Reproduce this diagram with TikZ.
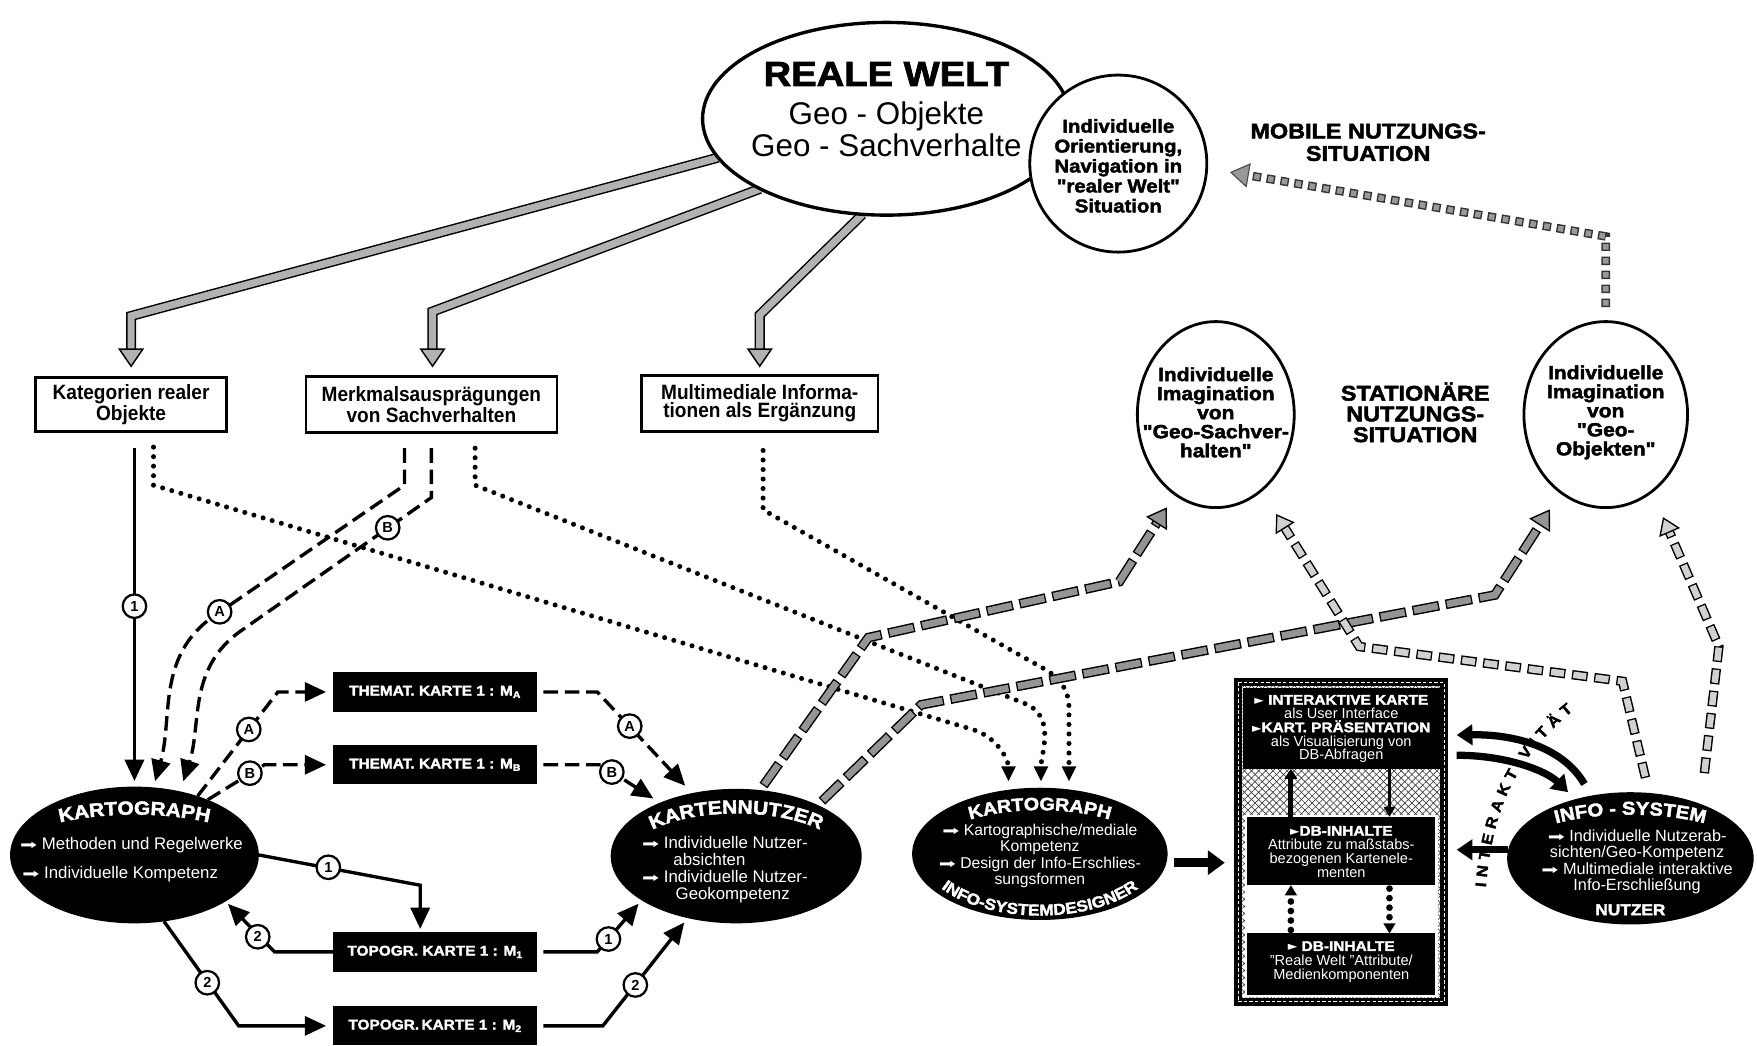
\documentclass[tikz,border=0pt]{standalone}
\usepackage{fontspec}
\usepackage{graphicx}
\setmainfont{Liberation Sans}
\newfontfamily\heavyf{Liberation Sans}[FakeStretch=1.1,BoldFeatures={FakeBold=2.2}]
\newfontfamily\condf{Liberation Sans}[FakeStretch=0.92]
\newfontfamily\symf{DejaVu Sans}
\usetikzlibrary{arrows.meta,shapes.geometric,decorations.text,patterns.meta,calc}
\pgfdeclarelayer{bg}
\pgfsetlayers{bg,main}
\newcommand\fsz[2]{\fontsize{#1}{#2}\selectfont}
\newcommand\hv{\heavyf\bfseries}
\newcommand\arr{{\symf\fsz{13}{13}\scalebox{1.4}[0.9]{➡}}}
\newcommand\ptr{{\symf\fsz{11}{11}►}}
\newcommand\subx[1]{\raisebox{-2.2pt}{\fsz{8.5}{8.5}#1}}

\begin{document}
\begin{tikzpicture}[x=1pt,y=1pt,
  every node/.style={inner sep=0pt,outer sep=0pt},
  topbox/.style={draw,line width=2.5pt,fill=white,align=center,font=\condf\bfseries\fsz{18.5}{16.5}},
  mapbox/.style={fill=black,text=white,minimum width=182pt,minimum height=35pt,font=\hv\fsz{12.5}{12.5}},
  darkell/.style={ellipse,fill=black},
  ringnode/.style={ellipse,draw,line width=2.5pt,fill=white,minimum height=166pt},
  ringtext/.style={align=center,font=\hv\fsz{17}{17}},
  wt/.style={text=white,font=\fsz{15}{15.3}},
  lab/.style={circle,draw,line width=2pt,fill=white,minimum size=21pt,font=\bfseries\fsz{13}{13}},
  conn/.style={line width=3pt,-{Triangle[width=17pt,length=19pt]}},
  dashconn/.style={conn,dash pattern=on 13pt off 6pt},
  dotconn/.style={line width=4.5pt,line cap=round,dash pattern=on 0pt off 8.5pt,-{Triangle[width=13pt,length=13pt,line width=0pt]}},
  dotin/.style={line width=6pt,line cap=round,dash pattern=on 0pt off 8.5pt,-{Triangle[width=11pt,length=9pt,line width=0pt]}},
  barout/.style={line width=9pt,draw=black},
  barin/.style={line width=6.4pt,draw=black!30,-{Triangle[width=23pt,length=17pt,line width=1.3pt,color=black,fill=black!30]}},
  gaout/.style={line width=8.6pt,draw=black,dash pattern=on 24pt off 6pt},
  gain/.style={line width=6pt,draw=black!42,dash pattern=on 21.6pt off 8.4pt,dash phase=28.8pt,-{Triangle[width=22pt,length=17pt,line width=1.2pt,color=black,fill=black!42]}},
  gcout/.style={line width=8.4pt,draw=black,dash pattern=on 14pt off 6pt},
  gcin/.style={line width=5.8pt,draw=black!18,dash pattern=on 11.6pt off 8.4pt,dash phase=18.8pt,-{Triangle[width=20pt,length=15pt,line width=1.2pt,color=black,fill=black!18]}},
  gmout/.style={line width=7.6pt,draw=black!80,dash pattern=on 7.5pt off 5pt},
  gmin/.style={line width=5pt,draw=black!40,dash pattern=on 4.9pt off 7.6pt,dash phase=11.2pt,-{Triangle[width=22pt,length=17pt,line width=1pt,color=black!70,fill=black!40]}},
  fatarrow/.style={line width=8pt,-{Triangle[width=21pt,length=15pt]}},
  arcarrow/.style={line width=6.5pt,-{Triangle[width=18pt,length=14pt]}},
  ibox/.style={draw=black,line width=7pt,preaction={fill=white},
    preaction={pattern={Lines[angle=45,distance=4.5pt,line width=0.6pt]},pattern color=black!75},
    pattern={Lines[angle=-45,distance=4.5pt,line width=0.6pt]},pattern color=black!75}
]
\useasboundingbox (0,0) rectangle (1568,-933);

% ---------------- real world ----------------
\node[ellipse,draw,line width=3pt,fill=white,minimum width=328pt,minimum height=172pt] (rw) at (791,-106) {};
\node[font=\hv\fsz{31}{31}] (rwt) at (791,-66) {REALE WELT};
\node[font=\fsz{28}{28}] (rwo) at (791,-104) {Geo - Objekte};
\node[font=\fsz{28}{28}] (rws) at (791,-130) {Geo - Sachverhalte};

\node[circle,draw,line width=2.5pt,fill=white,minimum size=158pt] (ori) at (998,-146) {};
\node[align=center,font=\hv\fsz{16.5}{17.8}] (orit) at (998,-148) {Individuelle\\Orientierung,\\Navigation in\\"realer Welt"\\Situation};

\node[align=center,font=\hv\fsz{19}{20}] (mob) at (1221,-127) {MOBILE NUTZUNGS-\\SITUATION};
\node[align=center,font=\hv\fsz{19}{18.5}] (sta) at (1263,-368) {STATIONÄRE\\NUTZUNGS-\\SITUATION};

\node[ringnode,minimum width=140pt] (ims) at (1085,-370) {};
\node[ringtext] (imst) at (1085,-368) {Individuelle\\Imagination\\von\\"Geo-Sachver-\\halten"};
\node[ringnode,minimum width=146pt] (imo) at (1433,-370) {};
\node[ringtext] (imot) at (1433,-368) {Individuelle\\Imagination\\von\\"Geo-\\Objekten"};

% ---------------- information categories ----------------
\node[topbox,minimum width=170pt,minimum height=48pt] (kat) at (117,-361) {Kategorien realer\\Objekte};
\node[topbox,minimum width=224pt,minimum height=50pt] (mkm) at (385,-361) {Merkmalsausprägungen\\von Sachverhalten};
\node[topbox,minimum width=211pt,minimum height=50pt] (mmi) at (678,-360) {Multimediale Informa-\\tionen als Ergänzung};

% ---------------- maps ----------------
\node[mapbox] (ta) at (388,-617.5) {THEMAT. KARTE 1 : M\subx{A}};
\node[mapbox] (tb) at (388,-682.5) {THEMAT. KARTE 1 : M\subx{B}};
\node[mapbox] (t1) at (388,-849.5) {TOPOGR. KARTE 1 : M\subx{1}};
\node[mapbox] (t2) at (388,-915.5) {TOPOGR.\,KARTE 1 : M\subx{2}};

% ---------------- actors ----------------
\node[darkell,minimum width=222pt,minimum height=122pt] (k1) at (120,-763) {};
\node[darkell,minimum width=224pt,minimum height=120pt] (kn) at (657,-764) {};
\node[darkell,minimum width=228pt,minimum height=118pt] (k2) at (928,-762) {};
\node[darkell,minimum width=220pt,minimum height=118pt] (is) at (1455,-766) {};

\node[wt,anchor=west] (k1a) at (18,-754) {\arr\ Methoden und Regelwerke};
\node[wt,anchor=west] (k1b) at (20,-780) {\arr\ Individuelle Kompetenz};
\node[wt,anchor=west,align=left] (knt) at (573,-776) {\arr\ Individuelle Nutzer-\\\hspace*{28pt}absichten\\\arr\ Individuelle Nutzer-\\\hspace*{30pt}Geokompetenz};
\node[wt,align=center,font=\fsz{14}{14.6}] (k2t) at (928,-764) {\arr\ Kartographische/mediale\\Kompetenz\\\arr\ Design der Info-Erschlies-\\sungsformen};
\node[wt,align=center,font=\fsz{14.5}{14.8}] (ist) at (1461,-769) {\arr\ Individuelle Nutzerab-\\sichten/Geo-Kompetenz\\\arr\ Multimediale interaktive\\Info-Erschließung};
\node[text=white,font=\hv\fsz{14}{14}] (nz) at (1455,-812) {NUTZER};

\path[shift={(k1.center)},decorate,decoration={text along path,text align=center,
  text={|\hv\fsz{17}{17}\color{white}|KARTOGRAPH}}]
  (165:112pt and 36pt) arc[start angle=165,end angle=15,x radius=112pt,y radius=36pt];
\path[shift={(kn.center)},decorate,decoration={text along path,text align=center,
  text={|\hv\fsz{17}{17}\color{white}|KARTENNUTZER}}]
  (170:95pt and 38pt) arc[start angle=170,end angle=10,x radius=95pt,y radius=38pt];
\path[shift={(k2.center)},decorate,decoration={text along path,text align=center,
  text={|\hv\fsz{16}{16}\color{white}|KARTOGRAPH}}]
  (165:100pt and 39pt) arc[start angle=165,end angle=15,x radius=100pt,y radius=39pt];
\path[shift={(k2.center)},decorate,decoration={text along path,text align=center,
  text={|\hv\fsz{14}{14}\color{white}|INFO-SYSTEMDESIGNER}}]
  (195:106pt and 55pt) arc[start angle=195,end angle=345,x radius=106pt,y radius=55pt];
\path[shift={(is.center)},decorate,decoration={text along path,text align=center,
  text={|\hv\fsz{16.5}{16.5}\color{white}|INFO - SYSTEM}}]
  (170:110pt and 39pt) arc[start angle=170,end angle=10,x radius=110pt,y radius=39pt];

% ---------------- information system ----------------
\node[ibox,minimum width=184pt,minimum height=285pt] (ibx) at (1197,-751.5) {};
\draw[white,line width=1.1pt,dash pattern=on 3pt off 2pt] (ibx.north west) rectangle (ibx.south east);
\node[fill=black,minimum width=176pt,minimum height=72pt] (ik) at (1197,-650) {};
\node[text=white,align=center,font=\fsz{13}{12.3}] (ikt) at (1197,-650.5)
  {{\hv\fsz{12.5}{12.3}\ptr\ INTERAKTIVE KARTE}\\als User Interface\\{\hv\fsz{12.5}{12.3}\ptr KART. PRÄSENTATION}\\als Visualisierung von\\DB-Abfragen};
\node[fill=white,minimum width=172pt,minimum height=163pt] (lw) at (1197,-808.5) {};
\node[fill=black,minimum width=168pt,minimum height=61pt] (dbm) at (1197,-759.5) {};
\node[text=white,align=center,font=\fsz{13}{12.3}] (dbmt) at (1197,-760)
  {{\hv\fsz{12.5}{12.3}\ptr DB-INHALTE}\\Attribute zu maßstabs-\\bezogenen Kartenele-\\menten};
\node[fill=black,minimum width=168pt,minimum height=55pt] (dbr) at (1197,-860.5) {};
\node[text=white,align=center,font=\fsz{13}{12.8}] (dbrt) at (1197,-858.5)
  {{\hv\fsz{12.5}{12.8}\ptr\ DB-INHALTE}\\"Reale Welt "Attribute/\\Medienkomponenten};

\draw[line width=4.5pt,-{Triangle[width=11pt,length=9pt]}] ([xshift=-45pt]dbm.north) -- ([xshift=-45pt]ik.south);
\draw[line width=3pt,-{Triangle[width=10pt,length=9pt]}] ([xshift=43pt]ik.south) -- ([xshift=43pt]dbm.north);
\draw[dotin,shorten <=3pt] ([xshift=-45pt]dbr.north) -- ([xshift=-45pt]dbm.south);
\draw[dotin,shorten <=3pt] ([xshift=43pt]dbm.south) -- ([xshift=43pt]dbr.north);

\path[decorate,decoration={text along path,text align=fit to path,
  text={|\hv\fsz{13.5}{13.5}|INTERAKTIVITÄT}}]
  (1326,-792) .. controls (1332,-722) and (1352,-677) .. (1404,-634);

% ---------------- markers on connectors ----------------
\node[lab] (l1) at (120,-541) {1};
\node[lab] (lA1) at (196,-546) {A};
\node[lab] (lB1) at (346,-471) {B};
\node[lab] (lA2) at (222,-651) {A};
\node[lab] (lB2) at (223,-690) {B};
\node[lab] (l12) at (293,-774) {1};
\node[lab] (l22) at (230,-836) {2};
\node[lab] (l23) at (185,-877) {2};
\node[lab] (lA3) at (562,-648) {A};
\node[lab] (lB3) at (546,-689) {B};
\node[lab] (l13) at (543,-838) {1};
\node[lab] (l24) at (567,-879) {2};

% ---------------- connectors ----------------
\begin{pgfonlayer}{bg}
% real world -> categories
\coordinate (g1) at (117,-282);
\coordinate (g2) at (386,-278);
\coordinate (g3) at (678,-281);
\draw[barout,shorten >=25pt] (rw.193) -- (g1) -- (g1 |- kat.north);
\draw[barin,shorten >=9pt] (rw.193) -- (g1) -- (g1 |- kat.north);
\draw[barout,shorten >=24pt] (rw.209) -- (g2) -- (g2 |- mkm.north);
\draw[barin,shorten >=8pt] (rw.209) -- (g2) -- (g2 |- mkm.north);
\draw[barout,shorten >=23pt] (rw.256) -- (g3) -- (g3 |- mmi.north);
\draw[barin,shorten >=7pt] (rw.256) -- (g3) -- (g3 |- mmi.north);

% dotted flows to the system designer
\coordinate (d1a) at (137,-433); \coordinate (d1b) at (868,-651);
\draw[dotconn,shorten <=14pt,shorten >=6pt] ([xshift=20pt]kat.south) -- (d1a) -- (d1b) to[out=-17,in=90] ([xshift=-28pt]k2.north);
\coordinate (d2a) at (424,-433); \coordinate (d2b) at (915,-628);
\draw[dotconn,shorten <=14pt,shorten >=6pt] ([xshift=39pt]mkm.south) -- (d2a) -- (d2b) to[out=-22,in=90] ([xshift=1pt]k2.north);
\coordinate (d3a) at (681,-455); \coordinate (d3b) at (932,-597); \coordinate (d3c) at (954,-632);
\draw[dotconn,shorten <=17pt,shorten >=6pt] ([xshift=3pt]mmi.south) -- (d3a) -- (d3b) to[out=-29.5,in=90] (d3c) -- ([xshift=26pt]k2.north);

% categories -> cartographer
\draw[conn,shorten <=15pt,shorten >=5pt] (kat.south -| k1.north) -- (k1.north);
\coordinate (dA1) at (361,-433); \coordinate (dA2) at (192,-549);
\draw[dashconn,shorten <=14pt,shorten >=5pt] ([xshift=-24pt]mkm.south) -- (dA1) -- (dA2) to[out=214,in=74] ([xshift=17pt]k1.north);
\coordinate (dB1) at (385,-444); \coordinate (dB2) at (215,-563);
\draw[dashconn,shorten <=14pt,shorten >=5pt] (mkm.south) -- (dB1) -- (dB2) to[out=215,in=72] ([xshift=42pt]k1.north);

% cartographer -> maps
\coordinate (cA) at (248,-617.5);
\draw[dashconn,shorten >=6pt] (k1.43) -- (cA) -- (ta.west);
\coordinate (cB) at (236,-682.5);
\draw[dashconn,shorten >=6pt] (k1.37) -- (cB) -- (tb.west);
\coordinate (c1) at (375,-790);
\draw[conn,shorten >=3pt] (k1.east) -- (c1) -- (c1 |- t1.north);
\coordinate (c2u) at (245,-849.5);
\draw[conn,shorten >=3pt] (t1.west) -- (c2u) -- (k1.-27);
\coordinate (c2d) at (213,-915.5);
\draw[conn,shorten >=6pt] (k1.-66) -- (c2d) -- (t2.west);

% maps -> map user
\coordinate (cA2) at (533,-617.5);
\draw[dashconn,shorten <=6pt,shorten >=9pt] (ta.east) -- (cA2) -- (kn.125);
\coordinate (cB2) at (536,-682.5);
\draw[dashconn,shorten <=6pt,shorten >=7pt] (tb.east) -- (cB2) -- (kn.145);
\coordinate (c12) at (533,-849.5);
\draw[conn,shorten <=6pt,shorten >=4pt] (t1.east) -- (c12) -- (kn.205);
\coordinate (c22) at (538,-915.5);
\draw[conn,shorten <=6pt,shorten >=5pt] (t2.east) -- (c22) -- (kn.232);

% stationary use: map user -> imagination
\coordinate (ga1) at (775,-569); \coordinate (ga2) at (999,-519);
\draw[gaout,shorten <=5pt,shorten >=30pt] (kn.70) -- (ga1) -- (ga2) -- (ims.243);
\draw[gain,shorten <=5pt,shorten >=14pt] (kn.70) -- (ga1) -- (ga2) -- (ims.243);
\coordinate (gb1) at (822,-629); \coordinate (gb2) at (1334,-531);
\draw[gaout,shorten <=5pt,shorten >=34pt] (kn.32) -- (gb1) -- (gb2) -- (imo.240);
\draw[gain,shorten <=5pt,shorten >=18pt] (kn.32) -- (gb1) -- (gb2) -- (imo.240);

% info system -> imagination
\coordinate (gc1) at (1448,-608); \coordinate (gc2) at (1213,-577);
\draw[gcout,shorten <=14pt,shorten >=39pt] (is.74) -- (gc1) -- (gc2) -- (ims.-59);
\draw[gcin,shorten <=14pt,shorten >=25pt] (is.74) -- (gc1) -- (gc2) -- (ims.-59);
\coordinate (gd1) at (1534,-577);
\draw[gcout,shorten >=39pt] ($(is.center)+(66,76)$) -- (gd1) -- (imo.-59);
\draw[gcin,shorten >=25pt] ($(is.center)+(66,76)$) -- (gd1) -- (imo.-59);

% mobile use
\coordinate (gm1) at (1433,-211);
\draw[gmout,shorten <=13pt,shorten >=37pt] (imo.north) -- (gm1) -- (ori.-3);
\draw[gmin,shorten <=13pt,shorten >=21pt] (imo.north) -- (gm1) -- (ori.-3);

% designer -> system, interactivity
\draw[fatarrow,shorten <=7pt,shorten >=12pt] (k2.-4) -- (k2.-4 -| ibx.west);
\draw[arcarrow,shorten <=12pt] (is.122) .. controls (1395,-667) and (1352,-655) .. ($(ibx.east |- ik.east)+(11,-6)$);
\draw[arcarrow,shorten >=9pt] ($(ibx.east |- ik.east)+(11,-24)$) .. controls (1345,-674) and (1380,-688) .. (is.133);
\draw[arcarrow] (is.176) -- ($(is.176 -| ibx.east)+(11,0)$);
\end{pgfonlayer}
\end{tikzpicture}
\end{document}
